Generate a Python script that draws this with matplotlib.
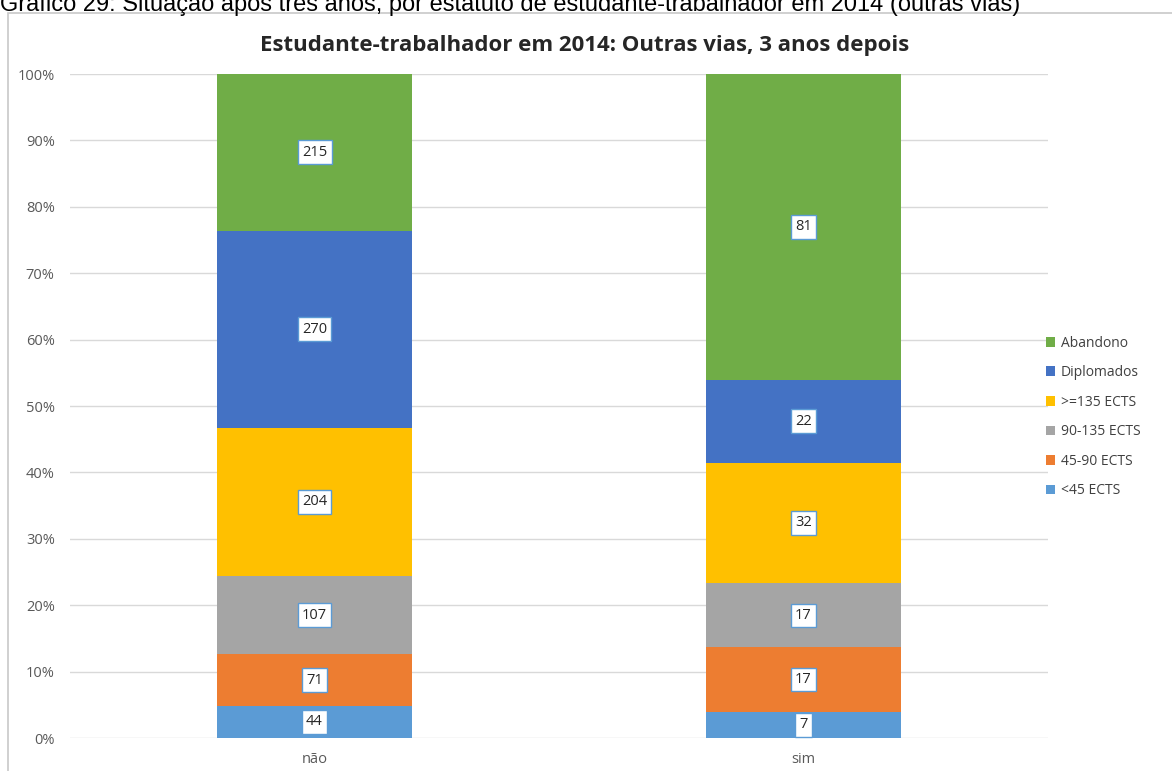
import matplotlib.pyplot as plt
from matplotlib.patches import Rectangle
import numpy as np

# dados do grafico
categorias = ['não', 'sim']
series = ['<45 ECTS', '45-90 ECTS', '90-135 ECTS', '>=135 ECTS', 'Diplomados', 'Abandono']
valores = {
    '<45 ECTS': [44, 7],
    '45-90 ECTS': [71, 17],
    '90-135 ECTS': [107, 17],
    '>=135 ECTS': [204, 32],
    'Diplomados': [270, 22],
    'Abandono': [215, 81],
}
cores = ['#5B9BD5', '#ED7D31', '#A5A5A5', '#FFC000', '#4472C4', '#70AD47']

titulo = 'Estudante-trabalhador em 2014: Outras vias, 3 anos depois'
legenda_fig = 'Gráfico 29: Situação após três anos, por estatuto de estudante-trabalhador em 2014 (outras vias)'

fig = plt.figure(figsize=(11.72, 7.71), dpi=100)
fig.patch.set_facecolor('white')

# moldura do grafico
fig.patches.append(Rectangle((8 / 1172, -0.01), 1.0, 1 - 13 / 771 + 0.01,
                             transform=fig.transFigure, fill=False,
                             edgecolor='#C8C8C8', linewidth=1.2))

# titulo da figura (no original aparece cortado em cima)
fig.text(0.0, 1 - 11 / 771, legenda_fig, fontsize=17, family='Liberation Sans',
         ha='left', va='baseline', color='black')

ax = fig.add_axes([70 / 1172, 33 / 771, (1048 - 70) / 1172, (738 - 74) / 771])

x = np.arange(len(categorias))
totais = np.sum([valores[s] for s in series], axis=0)
base = np.zeros(len(categorias))
barras = []
for s, c in zip(series, cores):
    v = np.array(valores[s], dtype=float)
    pct = v / totais
    b = ax.bar(x, pct, 0.4, bottom=base, color=c, label=s, zorder=2)
    barras.append(b)
    for xi, yi, h, n in zip(x, base, pct, valores[s]):
        ax.text(xi, yi + h / 2, str(n), ha='center', va='center', fontsize=10.5,
                family='Open Sans', color='#262626', zorder=3,
                bbox=dict(boxstyle='square,pad=0.3', facecolor='white',
                          edgecolor='#5B9BD5', linewidth=1))
    base = base + pct

ax.set_xlim(-0.5, 1.5)
ax.set_ylim(0, 1)
ax.set_yticks(np.arange(0, 1.01, 0.1))
ax.set_yticklabels([f'{int(round(t * 100))}%' for t in np.arange(0, 1.01, 0.1)])
ax.set_xticks(x)
ax.set_xticklabels(categorias)
ax.yaxis.grid(True, color='#D9D9D9', linewidth=1, zorder=0)
ax.set_axisbelow(True)
for sp in ax.spines.values():
    sp.set_visible(False)
ax.tick_params(axis='y', length=0, labelsize=10.5, colors='#595959', pad=11)
ax.tick_params(axis='x', length=0, labelsize=10.5, colors='#595959', pad=10)
for lbl in ax.get_xticklabels() + ax.get_yticklabels():
    lbl.set_family('Open Sans')

fig.text(585 / 1172, 1 - 45 / 771, titulo, ha='center', va='center',
         fontsize=16, fontweight='bold', family='Open Sans', color='#262626')

handles = barras[::-1]
labels = series[::-1]
fig.legend(handles, labels, loc='center left', bbox_to_anchor=(1033 / 1172, 1 - 417 / 771),
           frameon=False, handlelength=0.7, handleheight=0.7, handletextpad=0.4,
           labelspacing=1.05, prop={'family': 'Open Sans', 'size': 10}, labelcolor='#404040')

plt.savefig('out.png', dpi=100)
plt.close()
